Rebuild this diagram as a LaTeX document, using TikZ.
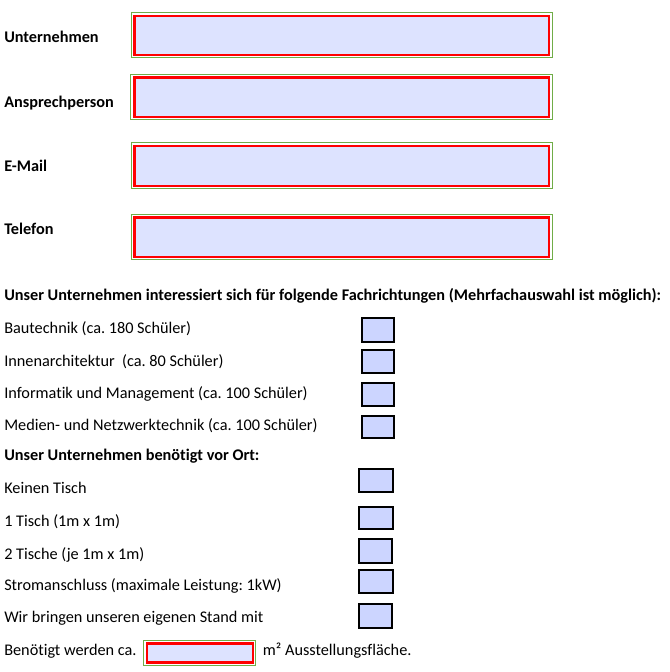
\documentclass[tikz,border=0pt]{standalone}
\usepackage{fontspec}
\setmainfont{Carlito}[Ligatures=NoCommon]
\frenchspacing
\definecolor{rahmengruen}{RGB}{112,173,71}
\definecolor{feldblau}{RGB}{221,227,255}
\definecolor{boxblau}{RGB}{204,213,255}
\begin{document}
\begin{tikzpicture}[x=0.75pt,y=-0.75pt,
    txt/.style={anchor=base west,inner sep=0pt,font=\fontsize{12.2}{14}\selectfont},
    rahmen/.style={draw=rahmengruen,line width=0.75pt},
    feld/.style={draw=red,fill=feldblau,line width=1.6pt},
    kasten/.style={draw=black,fill=boxblau,line width=1.5pt}]
    \useasboundingbox (0,0) rectangle (669,672);
    % Kontaktfelder
    \draw[rahmen] (131.3,12.3) rectangle (552.3,57.3);
    \draw[feld] (134.5,15.8) rectangle (548.7,55);
    \draw[rahmen] (130.8,74) rectangle (552.3,119);
    \draw[feld] (134.5,77.5) rectangle (548.7,116.7);
    \draw[rahmen] (131.3,142.7) rectangle (552.3,188.3);
    \draw[feld] (134.5,146.2) rectangle (548.7,186);
    \draw[rahmen] (131,214) rectangle (552.3,259.3);
    \draw[feld] (134.5,217.5) rectangle (548.7,257);
    \node[txt] (unternehmen) at (4,42.3) {\textbf{Unternehmen}};
    \node[txt] (ansprech) at (4,107.3) {\textbf{Ansprechperson}};
    \node[txt] (email) at (4,171.7) {\textbf{E-Mail}};
    \node[txt] (telefon) at (4,234.3) {\textbf{Telefon}};
    % Fachrichtungen
    \node[txt] (fach) at (4,300) {\textbf{Unser Unternehmen interessiert sich für folgende Fachrichtungen (Mehrfachauswahl ist möglich):}};
    \node[txt] (bau) at (4,333.3) {Bautechnik (ca. 180 Schüler)};
    \node[txt] (innen) at (4,366) {Innenarchitektur\ \ (ca. 80 Schüler)};
    \node[txt] (info) at (4,398.3) {Informatik und Management (ca. 100 Schüler)};
    \node[txt] (medien) at (4,430) {Medien- und Netzwerktechnik (ca. 100 Schüler)};
    \draw[kasten] (361.7,317.7) rectangle (394,341.7);
    \draw[kasten] (361.7,350) rectangle (394,373);
    \draw[kasten] (361.7,382.7) rectangle (394,406.3);
    \draw[kasten] (361.7,416) rectangle (394,438.3);
    % vor Ort
    \node[txt] (ort) at (4,460.7) {\textbf{Unser Unternehmen benötigt vor Ort:}};
    \node[txt] (keintisch) at (4,493.3) {Keinen Tisch};
    \node[txt] (eintisch) at (4,526.7) {1 Tisch (1m x 1m)};
    \node[txt] (zweitische) at (4,559) {2 Tische (je 1m x 1m)};
    \node[txt] (strom) at (4,590.7) {Stromanschluss (maximale Leistung: 1kW)};
    \node[txt] (stand) at (4,622.7) {Wir bringen unseren eigenen Stand mit};
    \draw[kasten] (359.3,469.3) rectangle (393.3,492.3);
    \draw[kasten] (359.3,506.7) rectangle (393.3,529.3);
    \draw[kasten] (359.3,539.3) rectangle (392.3,563);
    \draw[kasten] (359.3,569.7) rectangle (393.3,593.3);
    \draw[kasten] (358.7,604.3) rectangle (392.3,628);
    % Flaeche
    \node[txt] (benoetigt) at (4,655) {Benötigt werden ca.};
    \draw[rahmen] (143.7,640.7) rectangle (255.7,665);
    \draw[feld] (146.7,643.5) rectangle (253,662.5);
    \node[txt] (flaeche) at (262.7,655) {m² Ausstellungsfläche.};
\end{tikzpicture}
\end{document}
